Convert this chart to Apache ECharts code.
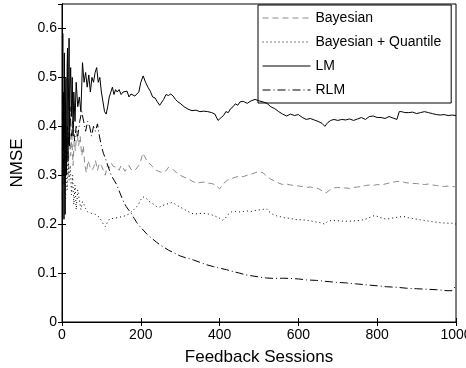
<!DOCTYPE html>
<html>
<head>
<meta charset="utf-8">
<script src="https://cdn.jsdelivr.net/npm/echarts@6/dist/echarts.min.js"></script>
<style>html,body{margin:0;padding:0;background:#fff}#c{width:466px;height:368px}</style>
</head>
<body>
<div id="c"></div>
<script>
var xTicks = [0, 200, 400, 600, 800, 1000];
var yTicks = [0, 0.1, 0.2, 0.3, 0.4, 0.5, 0.6];
var seriesNames = ['Bayesian', 'Bayesian + Quantile', 'LM', 'RLM'];

var bayX = [1,2,3,4,5,6,7,8,9,10,12,14,16,18,20,22,25,28,31,34,38,42,46,50,54,58,62,66,70,75,80,85,90,95,100,105,110,115,120,125,130,135,140,145,150,155,160,165,170,175,180,185,190,195,200,205,210,215,220,225,230,235,240,245,250,255,260,265,270,275,280,285,290,295,300,310,320,330,340,350,360,370,380,390,400,405,410,420,430,440,450,460,470,480,490,500,510,520,530,540,550,560,570,580,590,600,610,620,630,640,650,660,670,680,690,700,710,720,730,740,750,760,770,780,790,800,810,820,830,840,850,860,870,880,890,900,910,920,930,940,950,960,970,980,990,1000];
var bayY = [0.27,0.45,0.33,0.3,0.43,0.42,0.3,0.28,0.41,0.38,0.33,0.4,0.3,0.36,0.42,0.34,0.38,0.32,0.37,0.35,0.39,0.36,0.38,0.34,0.36,0.32,0.305,0.33,0.32,0.31,0.315,0.33,0.31,0.325,0.32,0.318,0.3,0.32,0.315,0.325,0.318,0.32,0.316,0.31,0.32,0.315,0.308,0.31,0.32,0.312,0.315,0.31,0.312,0.32,0.33,0.345,0.338,0.33,0.325,0.322,0.318,0.312,0.311,0.308,0.31,0.305,0.304,0.31,0.316,0.315,0.313,0.31,0.306,0.302,0.3,0.296,0.293,0.288,0.284,0.285,0.286,0.284,0.283,0.28,0.272,0.276,0.283,0.29,0.293,0.296,0.298,0.297,0.3,0.302,0.305,0.308,0.305,0.298,0.292,0.288,0.284,0.281,0.282,0.28,0.279,0.278,0.277,0.275,0.276,0.274,0.273,0.268,0.264,0.27,0.274,0.275,0.274,0.274,0.273,0.275,0.276,0.277,0.279,0.28,0.279,0.281,0.28,0.282,0.284,0.286,0.287,0.288,0.285,0.284,0.283,0.283,0.282,0.281,0.282,0.28,0.279,0.278,0.277,0.278,0.277,0.276];

var bqX = [1,2,3,4,5,6,7,8,9,11,13,15,18,21,24,27,30,33,36,40,44,48,52,56,60,65,70,75,80,85,90,95,100,105,110,115,120,125,130,135,140,145,150,155,160,165,170,175,180,185,190,195,200,205,210,215,220,225,230,235,240,248,255,262,270,277,284,290,300,310,320,330,340,350,360,370,380,390,400,408,415,422,430,440,450,460,470,480,490,500,510,518,525,535,545,555,565,578,590,600,610,620,630,640,650,660,667,675,688,700,715,730,745,760,773,785,794,805,815,824,835,850,866,880,895,909,925,940,959,975,989,1000];
var bqY = [0.3,0.38,0.42,0.31,0.28,0.4,0.36,0.26,0.25,0.33,0.27,0.35,0.29,0.32,0.26,0.3,0.24,0.28,0.23,0.27,0.25,0.23,0.246,0.24,0.232,0.225,0.228,0.222,0.226,0.22,0.218,0.214,0.21,0.2,0.195,0.203,0.21,0.214,0.212,0.215,0.213,0.216,0.215,0.213,0.217,0.219,0.221,0.225,0.228,0.232,0.236,0.242,0.25,0.256,0.257,0.252,0.247,0.245,0.242,0.238,0.236,0.235,0.238,0.24,0.242,0.244,0.243,0.239,0.235,0.23,0.226,0.222,0.221,0.222,0.222,0.221,0.219,0.216,0.212,0.208,0.213,0.22,0.225,0.226,0.225,0.226,0.227,0.226,0.228,0.229,0.23,0.232,0.226,0.22,0.217,0.215,0.213,0.212,0.21,0.209,0.209,0.208,0.207,0.205,0.204,0.202,0.2,0.206,0.208,0.207,0.206,0.206,0.207,0.208,0.211,0.215,0.218,0.214,0.212,0.21,0.212,0.214,0.216,0.213,0.211,0.209,0.207,0.205,0.203,0.202,0.202,0.2];

var lmX = [1,2,3,4,5,6,7,8,9,10,11,12,13,14,15,16,17,18,19,20,22,24,26,28,30,33,36,40,44,48,52,56,60,64,68,72,76,80,84,88,92,96,100,104,108,112,116,120,124,128,132,136,140,145,150,155,160,165,170,175,180,185,190,195,200,206,212,218,224,230,236,242,248,252,258,264,270,276,282,288,294,300,310,320,330,340,350,360,370,380,388,396,400,404,410,416,422,428,434,440,446,452,460,470,480,490,500,510,520,530,540,550,560,570,580,590,600,610,620,630,640,650,660,667,675,682,690,700,710,720,730,740,750,760,770,780,790,800,810,820,830,840,850,856,862,870,880,890,900,910,920,930,940,950,960,970,980,990,1000];
var lmY = [0.25,0.59,0.35,0.47,0.21,0.55,0.4,0.22,0.45,0.5,0.3,0.38,0.52,0.56,0.33,0.43,0.5,0.58,0.36,0.47,0.52,0.42,0.5,0.38,0.47,0.41,0.49,0.44,0.46,0.43,0.53,0.49,0.51,0.48,0.505,0.47,0.5,0.49,0.51,0.52,0.49,0.5,0.47,0.45,0.43,0.425,0.44,0.46,0.47,0.48,0.465,0.475,0.47,0.475,0.465,0.47,0.468,0.472,0.46,0.466,0.47,0.462,0.46,0.47,0.49,0.503,0.49,0.48,0.472,0.46,0.458,0.45,0.443,0.441,0.455,0.465,0.463,0.466,0.462,0.455,0.45,0.447,0.44,0.435,0.432,0.433,0.43,0.431,0.43,0.428,0.425,0.412,0.41,0.418,0.422,0.43,0.428,0.436,0.44,0.446,0.443,0.45,0.451,0.447,0.452,0.455,0.452,0.45,0.447,0.44,0.436,0.43,0.425,0.421,0.425,0.422,0.424,0.418,0.414,0.416,0.413,0.41,0.406,0.4,0.408,0.412,0.414,0.412,0.414,0.413,0.415,0.412,0.415,0.418,0.414,0.42,0.421,0.418,0.418,0.416,0.42,0.417,0.414,0.43,0.43,0.428,0.428,0.429,0.426,0.428,0.43,0.428,0.426,0.424,0.423,0.424,0.422,0.423,0.422];

var rlmX = [1,3,5,8,11,14,17,20,24,28,32,36,40,45,50,55,60,65,70,75,80,85,90,95,100,105,110,117,125,132,138,145,152,158,163,170,176,183,190,198,206,215,223,231,240,250,260,270,280,290,300,315,333,350,367,385,400,417,435,450,468,485,500,519,540,560,580,600,621,646,670,697,720,745,773,800,824,850,875,900,926,950,977,990,995,1000];
var rlmY = [0.35,0.45,0.3,0.42,0.33,0.4,0.36,0.44,0.38,0.41,0.37,0.4,0.38,0.41,0.43,0.41,0.39,0.41,0.4,0.38,0.4,0.39,0.405,0.38,0.36,0.345,0.335,0.318,0.3,0.29,0.282,0.268,0.254,0.243,0.236,0.228,0.222,0.212,0.203,0.195,0.188,0.18,0.174,0.169,0.163,0.157,0.152,0.147,0.143,0.139,0.135,0.131,0.127,0.122,0.117,0.113,0.11,0.107,0.103,0.1,0.096,0.094,0.092,0.09,0.089,0.0895,0.089,0.088,0.086,0.085,0.083,0.081,0.08,0.078,0.076,0.074,0.072,0.071,0.069,0.068,0.067,0.066,0.064,0.064,0.07,0.072];

function pairs(xs, ys) { return xs.map(function (x, i) { return [x, ys[i]]; }); }

var FONT = 'Liberation Sans';
var chart = echarts.init(document.getElementById('c'), null, { renderer: 'canvas' });

var lineBase = { type: 'line', showSymbol: false, symbol: 'none', animation: false, smooth: false };

chart.setOption({
  animation: false,
  backgroundColor: '#fff',
  grid: { left: 62, right: 10, top: 4, bottom: 46, outerBoundsMode: 'none', containLabel: false,
    show: true, borderColor: '#000', borderWidth: 1, backgroundColor: 'transparent' },
  legend: {
    orient: 'vertical', left: 258, top: 5,
    padding: [6, 10, 6, 4], itemGap: 10, itemWidth: 48, itemHeight: 15,
    backgroundColor: '#fff', borderColor: '#000', borderWidth: 1, borderRadius: 0,
    itemStyle: { opacity: 0, borderWidth: 0 },
    lineStyle: { width: 1 },
    textStyle: { fontFamily: FONT, fontSize: 14, color: '#000' },
    data: seriesNames
  },
  xAxis: [{
    type: 'value', min: xTicks[0], max: xTicks[xTicks.length - 1], interval: xTicks[1] - xTicks[0],
    name: 'Feedback Sessions', nameLocation: 'middle', nameGap: 27,
    nameTextStyle: { fontFamily: FONT, fontSize: 17, color: '#000' },
    axisLine: { lineStyle: { color: '#000', width: 1 } },
    axisTick: { inside: true, length: 4, lineStyle: { color: '#000' } },
    axisLabel: { fontFamily: FONT, fontSize: 14, color: '#000', margin: 6, hideOverlap: false,
      formatter: function (v) { return String(v); } },
    splitLine: { show: false }
  }, {
    type: 'value', position: 'top', min: xTicks[0], max: xTicks[xTicks.length - 1], interval: xTicks[1] - xTicks[0],
    axisLine: { lineStyle: { color: '#000' } },
    axisTick: { inside: true, length: 4, lineStyle: { color: '#000' } },
    axisLabel: { show: false }, splitLine: { show: false }
  }],
  yAxis: [{
    type: 'value', min: 0, max: 0.65, interval: 0.1,
    name: 'NMSE', nameLocation: 'middle', nameGap: 36,
    nameTextStyle: { fontFamily: FONT, fontSize: 17, color: '#000' },
    axisLine: { show: true, lineStyle: { color: '#000', width: 1 } },
    axisTick: { show: true, inside: true, length: 4, lineStyle: { color: '#000' } },
    axisLabel: { fontFamily: FONT, fontSize: 14, color: '#000', margin: 5, showMaxLabel: false,
      formatter: function (v) { return v > 0.62 ? '' : String(+v.toFixed(2)); } },
    splitLine: { show: false }
  }, {
    type: 'value', position: 'right', min: 0, max: 0.65, interval: 0.1,
    axisLine: { show: true, lineStyle: { color: '#000' } },
    axisTick: { show: true, inside: true, length: 4, lineStyle: { color: '#000' } },
    axisLabel: { show: false }, splitLine: { show: false }
  }],
  series: [
    Object.assign({}, lineBase, { name: seriesNames[0], data: pairs(bayX, bayY), z: 2,
      lineStyle: { color: '#8a8a8a', width: 1, type: [6, 4] }, itemStyle: { color: '#8a8a8a' } }),
    Object.assign({}, lineBase, { name: seriesNames[1], data: pairs(bqX, bqY), z: 3,
      lineStyle: { color: '#000', width: 1, type: [1, 3] }, itemStyle: { color: '#000' } }),
    Object.assign({}, lineBase, { name: seriesNames[2], data: pairs(lmX, lmY), z: 4,
      lineStyle: { color: '#000', width: 1, type: 'solid' }, itemStyle: { color: '#000' } }),
    Object.assign({}, lineBase, { name: seriesNames[3], data: pairs(rlmX, rlmY), z: 5,
      lineStyle: { color: '#000', width: 1, type: [8, 3, 1, 3] }, itemStyle: { color: '#000' } })
  ]
});
</script>
</body>
</html>
